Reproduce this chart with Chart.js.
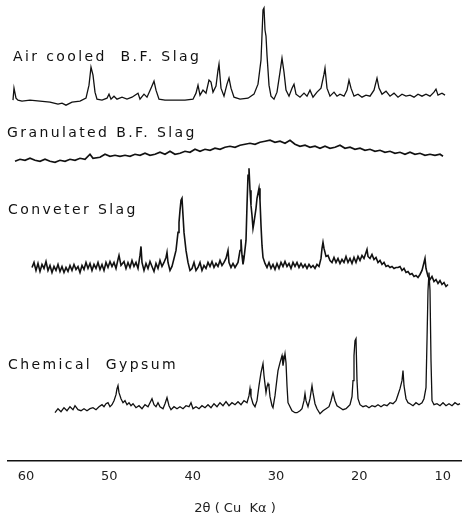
<!DOCTYPE html>
<html>
<head>
<meta charset="utf-8">
<script src="https://cdn.jsdelivr.net/npm/chart.js@4.4.1/dist/chart.umd.min.js"></script>
<style>
  html, body { margin: 0; padding: 0; background: #fff; }
  #xrd { display: block; }
</style>
</head>
<body>
<canvas id="xrd" width="462" height="522"></canvas>
<script>
// 2-theta (deg) tick labels, axis runs from high angle (left) to low angle (right)
const xTicks = [60, 50, 40, 30, 20, 10];

const sampleNames = ['Air cooled  B.F. Slag', 'Granulated B.F. Slag', 'Conveter Slag', 'Chemical  Gypsum'];

// each trace: [2theta, intensity above its own baseline]
const airCooled = [
  [61.56,0],[61.44,12],[61.2,2],[60.96,0],[60.48,-1],[59.52,0],[58.32,-1],[57.12,-2],[56.16,-4],[55.68,-3],
  [55.2,-5],[54.48,-2],[53.52,-1],[52.8,2],[52.44,15],[52.2,33],[51.96,25],[51.72,8],[51.48,1],[50.88,0],
  [50.28,2],[50.04,6],[49.8,1],[49.44,4],[49.08,1],[48.48,3],[47.88,1],[47.28,3],[46.56,7],[46.32,1],
  [45.84,6],[45.48,3],[45.0,12],[44.64,19],[44.4,10],[44.04,1],[43.32,0],[42.12,0],[40.92,0],[39.96,1],
  [39.6,7],[39.36,15],[39.12,5],[38.76,10],[38.4,7],[38.04,20],[37.8,18],[37.56,8],[37.2,14],[36.96,30],
  [36.84,36],[36.6,12],[36.24,4],[35.88,16],[35.64,22],[35.4,12],[35.04,3],[34.32,1],[33.36,2],[32.64,6],
  [32.16,16],[31.8,40],[31.68,65],[31.56,90],[31.44,92],[31.32,70],[31.2,64],[31.08,45],[30.84,15],[30.6,4],
  [30.24,1],[29.88,8],[29.52,28],[29.28,42],[29.04,28],[28.8,10],[28.44,4],[28.08,12],[27.84,16],[27.6,6],
  [27.12,3],[26.64,7],[26.28,4],[25.92,10],[25.56,3],[25.08,8],[24.6,12],[24.24,26],[24.12,32],[23.88,12],
  [23.52,4],[23.04,8],[22.68,4],[22.32,6],[21.84,4],[21.48,10],[21.24,20],[21.0,12],[20.64,4],[20.16,6],
  [19.68,3],[19.2,5],[18.72,4],[18.24,10],[17.88,22],[17.64,12],[17.28,6],[16.8,9],[16.32,4],[15.84,7],
  [15.36,3],[14.88,6],[14.4,4],[13.92,5],[13.44,3],[12.96,6],[12.48,4],[12.0,6],[11.52,4],[11.04,8],
  [10.8,11],[10.56,5],[10.08,7],[9.72,5]
];

const granulated = [
  [61.32,-1],[60.72,1],[60.12,0],[59.52,2],[58.92,0],[58.32,-1],[57.72,1],[57.12,-1],[56.52,-2],[55.92,0],
  [55.32,-1],[54.72,1],[54.12,0],[53.52,2],[52.92,1],[52.32,6],[51.96,2],[51.12,3],[50.52,6],[49.92,4],
  [49.32,5],[48.72,4],[48.12,5],[47.52,4],[46.92,6],[46.32,5],[45.72,7],[45.12,5],[44.52,6],[43.92,8],
  [43.32,6],[42.72,9],[42.12,6],[41.52,7],[40.92,9],[40.32,8],[39.72,11],[39.12,9],[38.52,11],[37.92,10],
  [37.32,12],[36.72,11],[36.12,13],[35.52,14],[34.92,13],[34.32,15],[33.72,16],[33.12,17],[32.52,16],[31.92,18],
  [31.32,19],[30.72,20],[30.12,18],[29.52,19],[28.92,17],[28.32,20],[27.72,16],[27.12,14],[26.52,15],[25.92,13],
  [25.32,14],[24.72,12],[24.12,14],[23.52,12],[22.92,13],[22.32,15],[21.72,12],[21.12,13],[20.52,11],[19.92,12],
  [19.32,10],[18.72,11],[18.12,9],[17.52,10],[16.92,8],[16.32,9],[15.72,7],[15.12,8],[14.52,6],[13.92,8],
  [13.32,6],[12.72,7],[12.12,5],[11.52,6],[10.92,5],[10.32,6],[9.96,4]
];

const converter = [
  [59.28,0],[59.04,5],[58.8,-3],[58.56,4],[58.32,-4],[58.08,3],[57.84,-1],[57.6,6],[57.36,-3],[57.12,2],
  [56.88,-5],[56.64,1],[56.4,-3],[56.16,3],[55.92,-4],[55.68,1],[55.44,-5],[55.2,0],[54.96,-4],[54.72,2],
  [54.48,-3],[54.24,3],[54.0,-2],[53.76,1],[53.52,-5],[53.28,2],[53.04,-2],[52.8,5],[52.56,-1],[52.32,4],
  [52.08,-3],[51.84,3],[51.6,-1],[51.36,5],[51.12,-2],[50.88,3],[50.64,-3],[50.4,5],[50.16,0],[49.92,6],
  [49.68,1],[49.44,5],[49.2,-1],[48.96,8],[48.84,12],[48.6,2],[48.24,6],[48.0,-1],[47.76,5],[47.52,0],
  [47.28,7],[47.04,1],[46.8,5],[46.56,-1],[46.32,12],[46.2,21],[46.08,5],[45.84,-3],[45.6,4],[45.36,-1],
  [45.12,6],[44.88,1],[44.64,-4],[44.4,4],[44.16,-1],[43.92,7],[43.68,1],[43.44,5],[43.2,10],[43.08,15],
  [42.96,5],[42.72,-3],[42.48,1],[42.24,9],[42.0,17],[41.76,35],[41.64,45],[41.52,57],[41.4,67],[41.28,69],
  [41.16,52],[41.04,35],[40.8,17],[40.56,5],[40.32,-3],[40.08,-1],[39.84,5],[39.6,-3],[39.36,0],[39.12,5],
  [38.88,-3],[38.64,2],[38.4,-1],[38.16,5],[37.92,1],[37.68,6],[37.44,0],[37.2,4],[36.96,1],[36.72,7],
  [36.48,2],[36.24,5],[36.0,9],[35.76,17],[35.64,5],[35.4,0],[35.16,4],[34.92,0],[34.56,5],[34.32,17],
  [34.2,28],[34.08,12],[33.96,3],[33.84,9],[33.6,27],[33.48,62],[33.36,92],[33.24,99],[33.12,77],[33.0,62],
  [32.88,52],[32.76,39],[32.64,45],[32.4,59],[32.28,69],[32.04,79],[31.92,67],[31.8,42],[31.68,22],[31.56,10],
  [31.32,4],[31.08,0],[30.84,5],[30.6,-1],[30.36,3],[30.12,-2],[29.88,4],[29.64,-1],[29.4,5],[29.16,1],
  [28.92,6],[28.68,1],[28.44,4],[28.2,-1],[27.96,5],[27.72,1],[27.48,5],[27.24,0],[27.0,4],[26.76,0],
  [26.52,3],[26.28,-1],[26.04,3],[25.8,0],[25.56,2],[25.32,-1],[25.08,3],[24.84,1],[24.6,9],[24.48,19],
  [24.36,25],[24.24,19],[24.0,11],[23.76,12],[23.52,7],[23.28,5],[23.04,10],[22.8,5],[22.56,9],[22.32,4],
  [22.08,8],[21.84,5],[21.6,11],[21.36,5],[21.12,9],[20.88,4],[20.64,10],[20.4,5],[20.16,11],[19.92,7],
  [19.68,12],[19.44,9],[19.2,15],[19.08,18],[18.96,11],[18.72,9],[18.48,13],[18.24,8],[18.0,10],[17.76,5],
  [17.52,7],[17.28,3],[17.04,5],[16.8,1],[16.56,2],[16.32,0],[16.08,1],[15.84,-1],[15.6,0],[15.36,0],
  [15.12,1],[14.88,-3],[14.64,-1],[14.4,-5],[14.16,-4],[13.92,-7],[13.68,-6],[13.44,-9],[13.2,-8],[12.96,-10],
  [12.72,-7],[12.48,-3],[12.24,5],[12.12,9],[12.0,-1],[11.76,-9],[11.52,-12],[11.28,-9],[11.04,-14],[10.8,-12],
  [10.56,-16],[10.32,-13],[10.08,-17],[9.84,-15],[9.6,-19],[9.36,-17]
];

const gypsum = [
  [56.52,-4],[56.16,0],[55.8,-3],[55.44,1],[55.08,-2],[54.72,2],[54.36,-1],[54.12,3],[53.76,-1],[53.4,-2],
  [53.04,0],[52.68,-2],[52.32,0],[51.96,1],[51.6,-1],[51.24,2],[50.88,4],[50.64,2],[50.4,5],[50.16,6],
  [49.92,2],[49.68,4],[49.44,8],[49.2,14],[49.08,20],[48.96,23],[48.84,16],[48.6,10],[48.36,6],[48.12,8],
  [47.88,4],[47.64,6],[47.4,3],[47.16,5],[46.8,1],[46.44,3],[46.08,0],[45.72,4],[45.36,2],[45.12,6],
  [44.88,10],[44.64,4],[44.4,2],[44.16,6],[43.92,2],[43.56,0],[43.32,5],[43.08,11],[42.84,3],[42.6,-1],
  [42.24,2],[41.88,0],[41.52,2],[41.16,0],[40.8,3],[40.44,2],[40.2,6],[39.96,0],[39.6,2],[39.24,0],
  [38.88,3],[38.52,1],[38.16,4],[37.8,1],[37.44,5],[37.08,2],[36.72,6],[36.36,3],[36.0,7],[35.64,3],
  [35.28,6],[34.92,4],[34.56,7],[34.2,4],[33.84,8],[33.48,6],[33.24,13],[33.12,20],[33.0,12],[32.76,5],
  [32.52,2],[32.28,8],[32.04,23],[31.8,36],[31.56,45],[31.44,33],[31.2,16],[31.08,22],[30.96,25],[30.84,22],
  [30.72,12],[30.48,3],[30.36,1],[30.12,13],[29.88,30],[29.76,38],[29.52,46],[29.28,53],[29.16,43],[28.92,55],
  [28.8,46],[28.68,23],[28.56,6],[28.32,2],[28.08,-2],[27.72,-4],[27.48,-4],[27.12,-2],[26.88,0],[26.64,8],
  [26.52,15],[26.4,8],[26.16,2],[25.92,10],[25.68,23],[25.56,16],[25.32,5],[25.08,0],[24.72,-5],[24.36,-2],
  [24.0,0],[23.64,2],[23.4,8],[23.16,16],[22.92,8],[22.68,3],[22.32,1],[21.96,-1],[21.6,0],[21.36,2],
  [21.12,4],[20.88,12],[20.76,28],[20.64,53],[20.52,68],[20.4,70],[20.28,28],[20.16,10],[19.92,4],[19.56,2],
  [19.2,3],[18.84,1],[18.48,3],[18.12,2],[17.76,4],[17.4,2],[17.04,4],[16.68,3],[16.32,6],[15.96,5],
  [15.6,8],[15.36,14],[15.12,20],[14.88,28],[14.76,38],[14.64,23],[14.4,10],[14.16,6],[13.92,5],[13.56,3],
  [13.2,6],[12.84,4],[12.48,6],[12.24,10],[12.0,21],[11.88,68],[11.76,118],[11.64,136],[11.52,118],[11.4,48],
  [11.28,8],[11.04,4],[10.68,5],[10.32,3],[9.96,6],[9.6,3],[9.24,5],[8.88,3],[8.52,6],[8.16,4],[7.92,5]
];

// vertical offset of every trace (stacked pattern)
const baselines = [360, 300, 193, 52];

const traces = [airCooled, granulated, converter, gypsum];
const lineWidths = [1.3, 1.7, 1.6, 1.3];

// names written above each trace
const labelPlugin = {
  id: 'sampleLabels',
  afterDatasetsDraw(chart) {
    const { ctx } = chart;
    const spots = [[13, 57], [7, 133], [8, 210], [8, 365]];
    ctx.save();
    ctx.fillStyle = '#111';
    ctx.font = '14px "DejaVu Sans", sans-serif';
    ctx.letterSpacing = '2.4px';
    ctx.textBaseline = 'middle';
    sampleNames.forEach((name, i) => {
      ctx.fillText(name, spots[i][0], spots[i][1]);
    });
    ctx.restore();
  }
};

new Chart(document.getElementById('xrd'), {
  type: 'scatter',
  data: {
    datasets: traces.map((tr, i) => ({
      label: sampleNames[i],
      data: tr.map(p => ({ x: p[0], y: baselines[i] + p[1] })),
      showLine: true,
      borderColor: '#111',
      borderWidth: lineWidths[i],
      pointRadius: 0,
      tension: 0,
      fill: false
    }))
  },
  plugins: [labelPlugin],
  options: {
    responsive: false,
    animation: false,
    layout: { padding: { left: 8, right: 0, top: 0, bottom: 2 } },
    plugins: { legend: { display: false }, tooltip: { enabled: false } },
    scales: {
      x: {
        type: 'linear',
        reverse: true,
        min: 7.68,
        max: 62.16,
        afterBuildTicks: axis => { axis.ticks = xTicks.map(v => ({ value: v })); },
        grid: { drawOnChartArea: false, drawTicks: false },
        border: { display: true, color: '#111', width: 1.5 },
        ticks: {
          padding: 8,
          color: '#222',
          font: { family: 'DejaVu Sans', size: 13 },
          maxRotation: 0
        },
        title: {
          display: true,
          text: '2θ ( Cu  Kα )',
          color: '#222',
          font: { family: 'DejaVu Sans', size: 13 },
          padding: { top: 8, bottom: 4 }
        }
      },
      y: {
        display: false,
        min: 0,
        max: 460
      }
    }
  }
});
</script>
</body>
</html>
